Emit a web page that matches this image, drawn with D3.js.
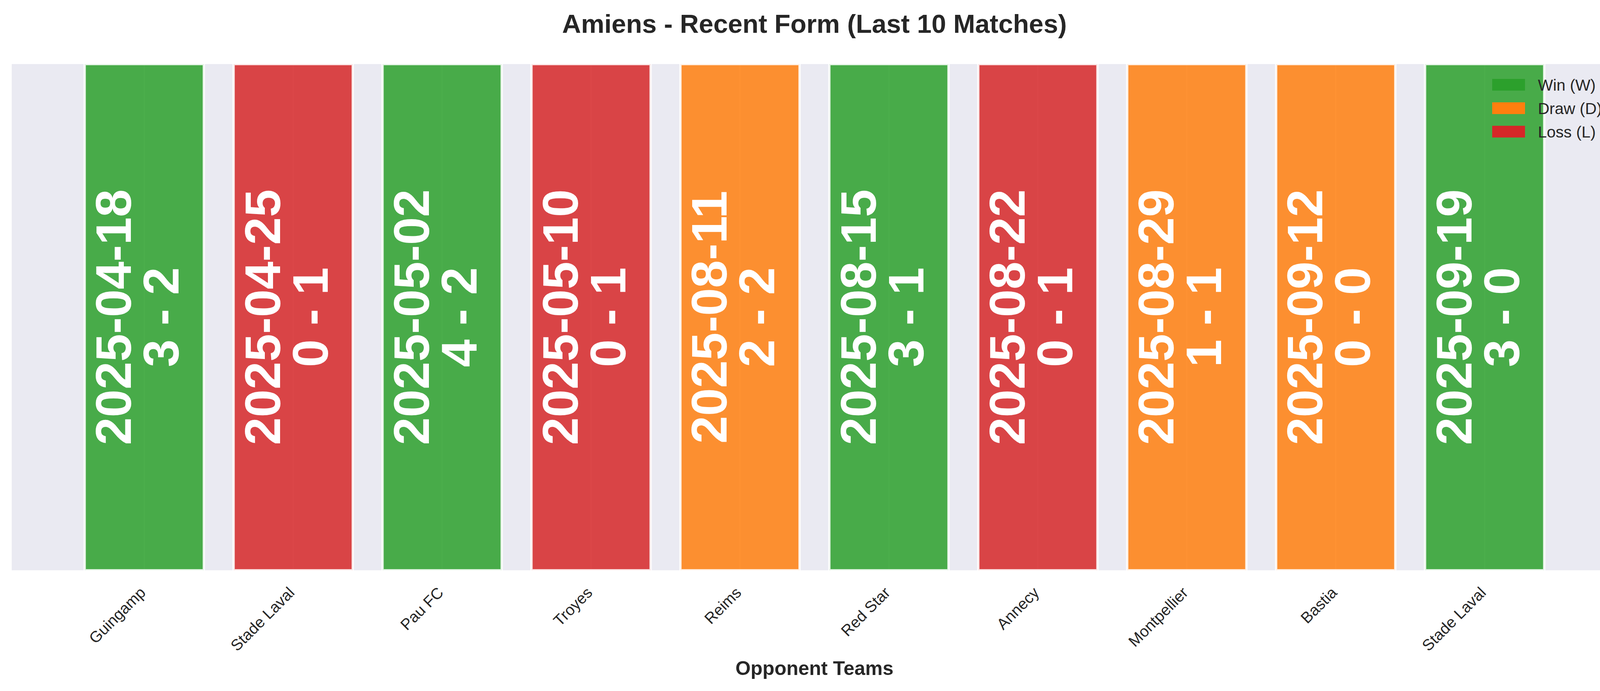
<!DOCTYPE html>
<html><head><meta charset="utf-8">
<script src="https://cdn.jsdelivr.net/npm/d3@7"></script>
<style>body{margin:0;background:#fff}text{font-family:"Liberation Sans",Arial,sans-serif}</style>
</head><body><svg id="c" width="4170" height="1769"></svg>
<script>
const opponents=["Guingamp","Stade Laval","Pau FC","Troyes","Reims","Red Star","Annecy","Montpellier","Bastia","Stade Laval"];
const dates=["2025-04-18","2025-04-25","2025-05-02","2025-05-10","2025-08-11","2025-08-15","2025-08-22","2025-08-29","2025-09-12","2025-09-19"];
const scores=["3 - 2","0 - 1","4 - 2","0 - 1","2 - 2","3 - 1","0 - 1","1 - 1","0 - 0","3 - 0"];
const results=["W","L","W","L","D","W","L","D","D","W"];
const values=[1,1,1,1,1,1,1,1,1,1];
const legendLabels=[["W","Win (W)"],["D","Draw (D)"],["L","Loss (L)"]];
const colors={W:"#2ca02c",D:"#ff7f0e",L:"#d62728"};

const svg=d3.select("#c");
const L=30,R=4140,T=164,B=1460;
const x=d3.scaleLinear().domain([-0.89,9.89]).range([L,R]);
const y=d3.scaleLinear().domain([0,1]).range([B,T]);
const bw=x(0.8)-x(0);

svg.append("rect").attr("x",L).attr("y",T).attr("width",R-L).attr("height",B-T).attr("fill","#eaeaf2");
svg.selectAll(".g").data(d3.range(10)).join("line").attr("x1",i=>x(i)).attr("x2",i=>x(i)).attr("y1",T).attr("y2",B).attr("stroke","#fff").attr("stroke-width",3);

svg.selectAll(".bar").data(values).join("rect")
 .attr("x",(d,i)=>x(i)-bw/2).attr("width",bw)
 .attr("y",d=>y(d)).attr("height",d=>y(0)-y(d))
 .attr("fill",(d,i)=>colors[results[i]]).attr("fill-opacity",0.85)
 .attr("stroke","#fff").attr("stroke-width",6).attr("stroke-opacity",0.85);

const ym=y(0.5);
values.forEach((d,i)=>{
  const t=svg.append("text").attr("transform",`translate(${x(i)-12},${ym}) rotate(-90)`)
   .attr("text-anchor","middle").attr("fill","#fff").attr("font-weight","bold").attr("font-size",128);
  t.append("tspan").attr("x",0).attr("dy",-22).text(dates[i]);
  t.append("tspan").attr("x",0).attr("dy",122).text(scores[i]);
});

opponents.forEach((n,i)=>{
  svg.append("text").attr("transform",`translate(${x(i)-14},${B+40}) rotate(-45)`)
   .attr("text-anchor","end").attr("dy","0.7em").attr("font-size",40).attr("fill","#262626").text(n);
});

svg.append("text").attr("x",(L+R)/2).attr("y",1728).attr("text-anchor","middle")
 .attr("font-weight","bold").attr("font-size",50).attr("fill","#262626").text("Opponent Teams");
svg.append("text").attr("x",(L+R)/2).attr("y",84).attr("text-anchor","middle")
 .attr("font-weight","bold").attr("font-size",67).attr("fill","#262626").text("Amiens - Recent Form (Last 10 Matches)");

legendLabels.forEach(([k,lab],j)=>{
  svg.append("rect").attr("x",3820).attr("y",202+j*60).attr("width",84).attr("height",30).attr("fill",colors[k]);
  svg.append("text").attr("x",3937).attr("y",232+j*60).attr("font-size",41).attr("fill","#262626").text(lab);
});
</script></body></html>
